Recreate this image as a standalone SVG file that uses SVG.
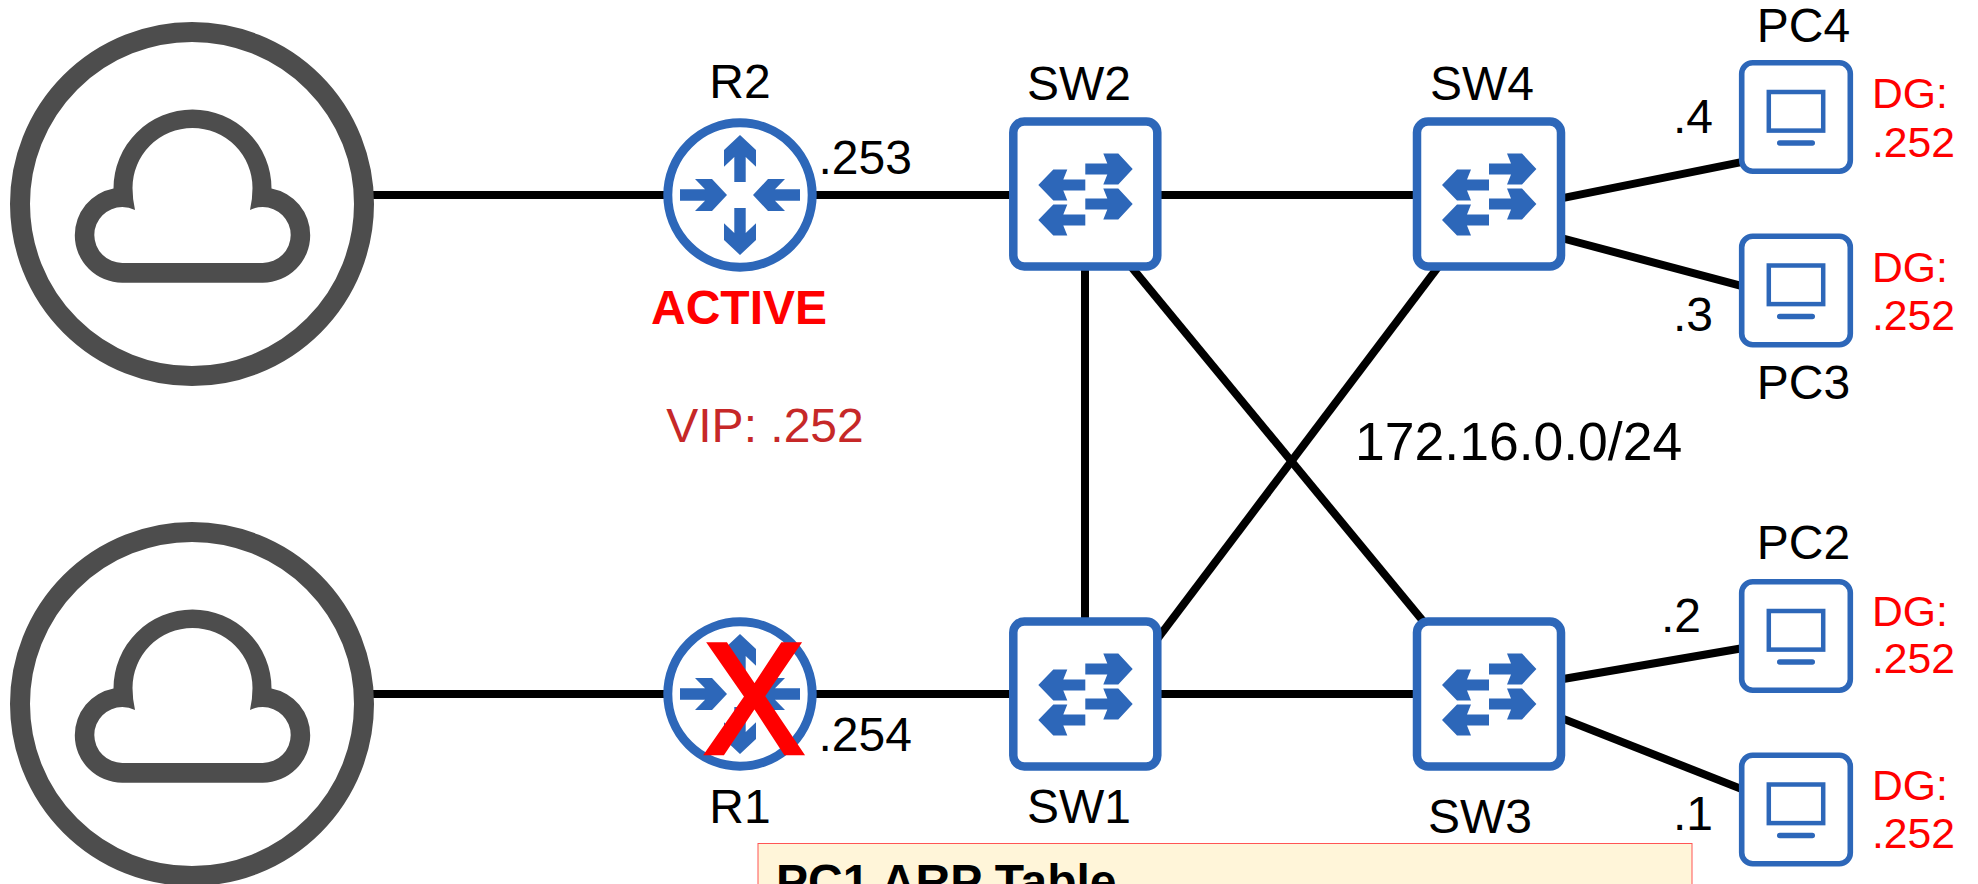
<svg xmlns="http://www.w3.org/2000/svg" width="1978" height="884" viewBox="0 0 1978 884">
<style>
text{font-family:"Liberation Sans",Arial,sans-serif;font-size:48px;fill:#000}
.dg{font-size:42.7px;fill:#ff0000}
.lnk{stroke:#000;stroke-width:8;fill:none}
.blue{fill:#2d67b9}
.box{fill:#fff;stroke:#2d67b9}
</style>
<defs>
<g id="cloud">
<circle cx="192" cy="204" r="172" fill="#fff" stroke="#4d4d4d" stroke-width="20"/>
<path fill="#4d4d4d" fill-rule="evenodd" d="M122.3 282.7H262.7A47.5 47.5 0 0 0 310.2 235.2A47.5 47.5 0 0 0 271.5 188.5A79 79 0 0 0 113.5 188.5A47.5 47.5 0 0 0 74.8 235.2A47.5 47.5 0 0 0 122.3 282.7ZM122.3 263A28 28 0 0 1 122.3 207Q129 207 135 210Q132.5 199 132.5 188A60 60 0 0 1 252.5 188Q252.5 199 250 210Q256 207 262.7 207A28 28 0 0 1 262.7 263Z"/>
</g>
<g id="router">
<circle r="72.2" fill="#fff" stroke="#2d67b9" stroke-width="9"/>
<path class="blue" d="M-5.7 -13V-38L-16 -28.3V-45L0 -60L16 -45V-28.3L5.7 -38V-13Z"/>
<path class="blue" d="M-5.7 13V38L-16 28.3V45L0 60L16 45V28.3L5.7 38V13Z"/>
<path class="blue" d="M-60 -5.7H-35L-45 -16H-28L-13 0L-28 16H-45L-35 5.7H-60Z"/>
<path class="blue" d="M60 -5.7H35L45 -16H28L13 0L28 16H45L35 5.7H60Z"/>
</g>
<path id="ra" class="blue" d="M0 -5.4H22L18 -15.5H33L47.4 0L33 15.5H18L22 5.4H0Z"/>
<path id="la" class="blue" d="M0 -5.4H-22L-18 -15.5H-32L-47 0L-32 15.5H-18L-22 5.4H0Z"/>
<g id="switch">
<rect x="-72" y="-72.5" width="144" height="145" rx="11" class="box" stroke-width="8.5"/>
<use href="#ra" y="-25"/><use href="#ra" y="10"/>
<use href="#la" y="-9"/><use href="#la" y="26"/>
</g>
<g id="pc">
<rect x="-54.3" y="-54.3" width="108.6" height="108.6" rx="11" class="box" stroke-width="5.6"/>
<rect x="-27.2" y="-25" width="54.4" height="38.6" fill="none" stroke="#2d67b9" stroke-width="4.5"/>
<rect x="-19" y="23.3" width="38" height="5.4" rx="2.7" class="blue"/>
</g>
</defs>
<rect width="1978" height="884" fill="#fff"/>
<g id="connectors">
<line class="lnk" x1="370" y1="195" x2="1490" y2="195"/>
<line class="lnk" x1="370" y1="694" x2="1490" y2="694"/>
<line class="lnk" x1="1085" y1="194" x2="1085" y2="694"/>
<line class="lnk" x1="1120" y1="253.2" x2="1436" y2="636.8"/>
<line class="lnk" x1="1147" y1="652.6" x2="1450" y2="251.2"/>
<line class="lnk" x1="1550" y1="200.7" x2="1745" y2="161.3"/>
<line class="lnk" x1="1550" y1="235" x2="1745" y2="286.8"/>
<line class="lnk" x1="1550" y1="681.3" x2="1745" y2="647.8"/>
<line class="lnk" x1="1550" y1="713.6" x2="1745" y2="790.4"/>
</g>
<g id="cloud-top"><use href="#cloud"/></g>
<g id="cloud-bottom"><use href="#cloud" y="500"/></g>
<g id="R2"><use href="#router" x="740" y="195"/><text x="740" y="98" text-anchor="middle">R2</text><text x="739" y="324" text-anchor="middle" font-weight="bold" style="fill:#f00;font-size:48px">ACTIVE</text></g>
<g id="R1"><use href="#router" x="740" y="694"/><text transform="translate(754 753) scale(.95 1)" text-anchor="middle" style="fill:#f00;stroke:#f00;stroke-width:4.5;font-size:158px">X</text><text x="740" y="823" text-anchor="middle">R1</text></g>
<g id="SW2"><use href="#switch" x="1085.3" y="194"/><text x="1079" y="100" text-anchor="middle">SW2</text></g>
<g id="SW4"><use href="#switch" x="1489" y="194"/><text x="1482" y="100" text-anchor="middle">SW4</text></g>
<g id="SW1"><use href="#switch" x="1085.3" y="694"/><text x="1079" y="823" text-anchor="middle">SW1</text></g>
<g id="SW3"><use href="#switch" x="1489" y="694"/><text x="1480" y="833" text-anchor="middle">SW3</text></g>
<g id="PC4"><use href="#pc" x="1796" y="117"/><text x="1803.5" y="42" text-anchor="middle">PC4</text><text class="dg" x="1872" y="108">DG:</text><text class="dg" x="1872" y="156.7">.252</text></g>
<g id="PC3"><use href="#pc" x="1796" y="290.5"/><text x="1803.5" y="399" text-anchor="middle">PC3</text><text class="dg" x="1872" y="281.7">DG:</text><text class="dg" x="1872" y="329.7">.252</text></g>
<g id="PC2"><use href="#pc" x="1796" y="636"/><text x="1803.5" y="559" text-anchor="middle">PC2</text><text class="dg" x="1872" y="626">DG:</text><text class="dg" x="1872" y="673.3">.252</text></g>
<g id="PC1"><use href="#pc" x="1796" y="809.5"/><text class="dg" x="1872" y="800">DG:</text><text class="dg" x="1872" y="848.3">.252</text></g>
<g id="labels">
<text x="818.5" y="174">.253</text>
<text x="818.5" y="751">.254</text>
<text x="765" y="442" text-anchor="middle" style="fill:#c62828">VIP: .252</text>
<text x="1355" y="460" style="font-size:53.5px">172.16.0.0/24</text>
<text x="1673" y="133.3">.4</text>
<text x="1673" y="330.7">.3</text>
<text x="1661" y="631.7">.2</text>
<text x="1673" y="830">.1</text>
</g>
<g id="arp-table">
<rect x="758" y="843.5" width="934" height="60" fill="#fff5d9" stroke="#f55" stroke-width="1"/>
<text x="776" y="898" font-weight="bold">PC1 ARP Table</text>
</g>
</svg>
